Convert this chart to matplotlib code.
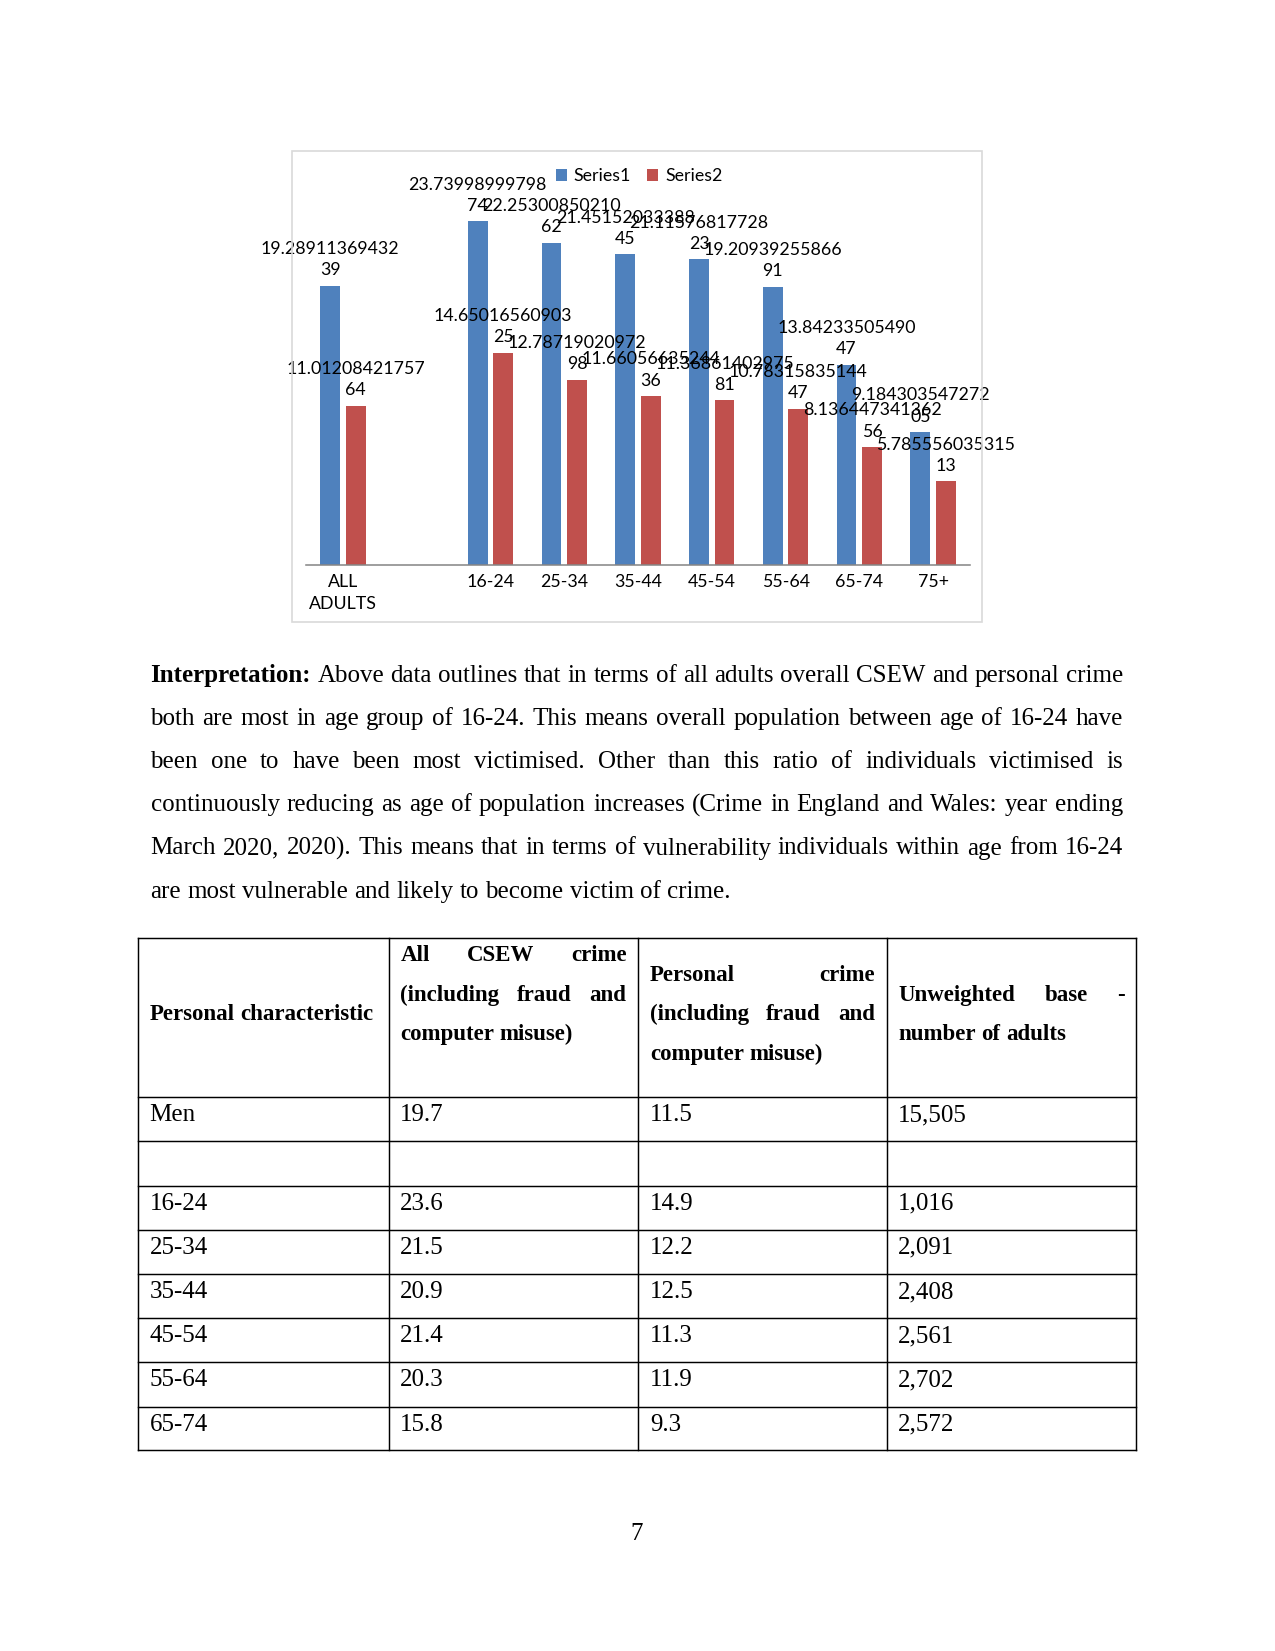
import numpy as np
import matplotlib.pyplot as plt
from matplotlib.patches import Rectangle

# chart data (labels)
categories = ['ALL\nADULTS', '', '16-24', '25-34', '35-44', '45-54', '55-64', '65-74', '75+']
series1 = [19.2891136943239, None, 23.7399899979874, 22.2530085021062, 21.4515203338845,
           21.1157681772823, 19.2093925586691, 13.8423350549047, 9.18430354727205]
series2 = [11.0120842175764, None, 14.6501656090325, 12.7871902097298, 11.6605663524436,
           11.3686140297581, 10.7831583514447, 8.13644734136256, 5.78555603531513]
series_names = ['Series1', 'Series2']
colors = ['#4F81BD', '#C0504D']

paragraph_lead = 'Interpretation:'
paragraph_lines = [
    'Above data outlines that in terms of all adults overall CSEW and personal crime',
    'both are most in age group of 16-24. This means overall population between age of 16-24 have',
    'been one to have been most victimised. Other than this ratio of individuals victimised is',
    'continuously reducing as age of population increases (Crime in England and Wales: year ending',
    'March 2020, 2020). This means that in terms of vulnerability individuals within age from 16-24',
    'are most vulnerable and likely to become victim of crime.',
]

header_lines = [
    ['Personal characteristic'],
    ['All CSEW crime', '(including fraud and', 'computer misuse)'],
    ['Personal crime', '(including fraud and', 'computer misuse)'],
    ['Unweighted base -', 'number of adults'],
]
row_labels = ['Men', '', '16-24', '25-34', '35-44', '45-54', '55-64', '65-74']
all_csew = ['19.7', '', '23.6', '21.5', '20.9', '21.4', '20.3', '15.8']
personal = ['11.5', '', '14.9', '12.2', '12.5', '11.3', '11.9', '9.3']
base_n = ['15,505', '', '1,016', '2,091', '2,408', '2,561', '2,702', '2,572']
page_number = '7'

W, H = 1275, 1651
fig = plt.figure(figsize=(W / 150, H / 150), dpi=150)
SERIF = 'Liberation Serif'
LBL = 8.5


def fy(y):
    return 1 - y / H


# ---- chart ----
fig.patches.append(Rectangle((292 / W, fy(622)), 690 / W, 471 / H, transform=fig.transFigure,
                             fill=False, ec='#D9D9D9', lw=0.8))
ax = fig.add_axes([306 / W, fy(565), 664 / W, (565 - 203) / H])
ax.set_xlim(-0.5, len(categories) - 0.5)
ax.set_ylim(0, 25)

handles = []
for vals, off, c in zip([series1, series2], [-0.173, 0.173], colors):
    idx = [i for i, v in enumerate(vals) if v is not None]
    h = ax.bar(np.array(idx) + off, [vals[i] for i in idx], width=0.267, color=c)
    handles.append(h)
    for i in idx:
        s = repr(vals[i])
        lab = s[:14] + '\n' + s[14:]
        ax.annotate(lab, (i + off, vals[i]), xytext=(0, 3.6), textcoords='offset points',
                    ha='center', va='bottom', fontsize=LBL, family='Lato', linespacing=1.4,
                    annotation_clip=False, clip_on=False)

for sp in ['top', 'left', 'right']:
    ax.spines[sp].set_visible(False)
ax.spines['bottom'].set_color('#868686')
ax.spines['bottom'].set_linewidth(0.75)
ax.set_yticks([])
ax.set_xticks(range(len(categories)))
ax.set_xticklabels(categories, fontsize=LBL, family='Lato', linespacing=1.4)
ax.tick_params(axis='x', length=0, pad=4.5)

fig.legend(handles, series_names, loc='center', bbox_to_anchor=(639 / W, fy(176)), ncol=2,
           frameon=False, prop={'family': 'Lato', 'size': LBL}, handlelength=0.62,
           handleheight=0.62, handletextpad=0.4, columnspacing=0.9)

# ---- text helpers ----
renderer = fig.canvas.get_renderer()


def put_line(words, y, x0, x1, justify=True, size=12):
    # words: list of (text, weight)
    texts = [fig.text(0, fy(y + 8), w, fontsize=size, family=SERIF, weight=wt, va='baseline')
             for w, wt in words]
    widths = [t.get_window_extent(renderer).width for t in texts]
    if justify and len(texts) > 1:
        gap = (x1 - x0 - sum(widths)) / (len(texts) - 1)
    else:
        gap = 0.25 * size * 150 / 72
    x = x0
    for t, w in zip(texts, widths):
        t.set_x(x / W)
        x += w + gap


# ---- paragraph ----
para_y = [673.8, 717, 760, 803.3, 846.5, 889.7]
for k, (line, y) in enumerate(zip(paragraph_lines, para_y)):
    words = [(w, 'normal') for w in line.split()]
    if k == 0:
        words = [(paragraph_lead, 'bold')] + words
    put_line(words, y, 150.5, 1123, justify=(k < len(paragraph_lines) - 1))

# ---- table ----
col_x = [137.9, 388.5, 638, 886.5, 1136]
row_y = [938.1, 1097.1, 1141.3, 1185.5, 1229.7, 1274, 1318.2, 1362.4, 1406.6, 1449.9]
for x in col_x:
    fig.add_artist(plt.Line2D([x / W, x / W], [fy(row_y[0]), fy(row_y[-1])], color='black', lw=0.7))
for y in row_y:
    fig.add_artist(plt.Line2D([col_x[0] / W, col_x[-1] / W], [fy(y), fy(y)], color='black', lw=0.7))

pad_l, pad_r = 11.8, 11.5
header_y = [[1011.8], [952.8, 992.8, 1031.8], [972.8, 1011.8, 1051.8], [992.8, 1031.8]]
for c, (lines, ys) in enumerate(zip(header_lines, header_y)):
    x0, x1 = col_x[c] + pad_l, col_x[c + 1] - pad_r
    for j, (ln, y) in enumerate(zip(lines, ys)):
        put_line([(w, 'bold') for w in ln.split()], y, x0, x1,
                 justify=(len(lines) > 1 and j < len(lines) - 1), size=11)

for r, vals in enumerate(zip(row_labels, all_csew, personal, base_n)):
    y = row_y[r + 1] + 16
    for c, v in enumerate(vals):
        if v:
            fig.text((col_x[c] + pad_l) / W, fy(y + 8), v, fontsize=12, family=SERIF, va='baseline')

fig.text(637 / W, fy(1540), page_number, fontsize=12, family=SERIF, ha='center', va='baseline')

fig.savefig('out.png', dpi=150)
